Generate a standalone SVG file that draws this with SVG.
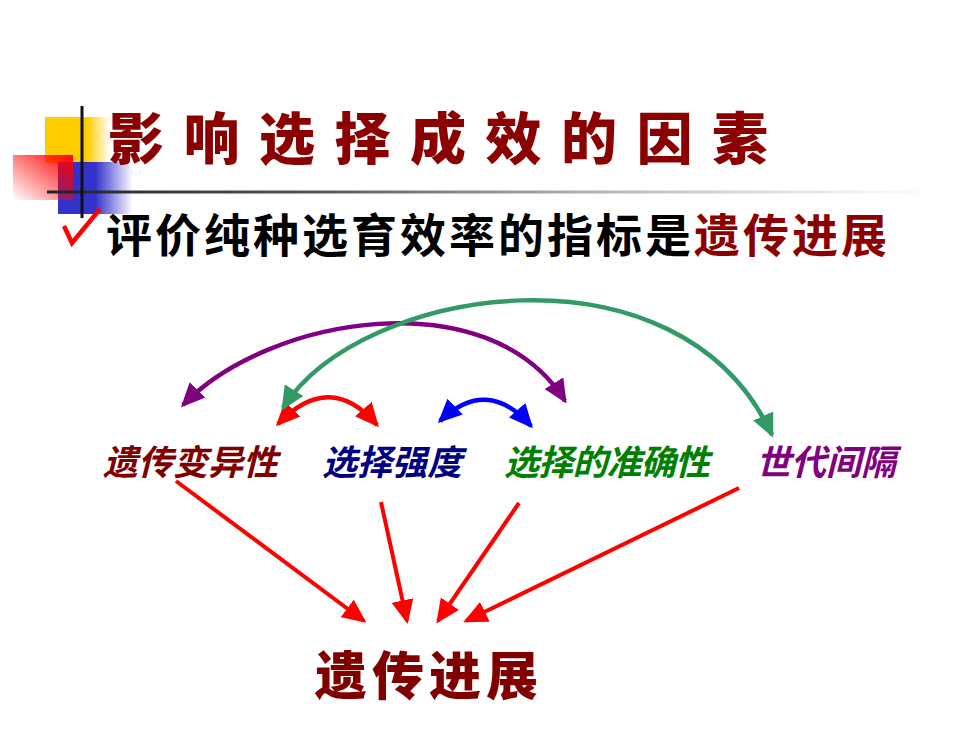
<svg xmlns="http://www.w3.org/2000/svg" width="980" height="735" viewBox="0 0 980 735">
<style>
.cjk{font-family:"Noto Sans CJK SC","Noto Sans",sans-serif}
.title{font-size:56px;font-weight:900;fill:#8B0000;letter-spacing:19.5px}
.sub{font-size:46px;font-weight:700;fill:#000;letter-spacing:3px}
.lbl{font-size:35px;font-weight:700;font-style:italic}
.arc{fill:none;stroke-width:4.5}
.ln{fill:none;stroke:#FF0000;stroke-width:4}
</style>
<defs>
<linearGradient id="gy" x1="0" y1="0" x2="1" y2="0"><stop offset="0.65" stop-color="#FFCC00"/><stop offset="1" stop-color="#FFCC00" stop-opacity="0"/></linearGradient>
<linearGradient id="gb" x1="0" y1="0" x2="1" y2="0"><stop offset="0.5" stop-color="#3333CC"/><stop offset="1" stop-color="#3333CC" stop-opacity="0"/></linearGradient>
<linearGradient id="gr" x1="1" y1="0" x2="0" y2="1"><stop offset="0" stop-color="#FF0000"/><stop offset="1" stop-color="#FF0000" stop-opacity="0"/></linearGradient>
<linearGradient id="gl" x1="0" y1="0" x2="1" y2="0"><stop offset="0" stop-color="#222"/><stop offset="0.3" stop-color="#555"/><stop offset="1" stop-color="#999" stop-opacity="0"/></linearGradient>
<marker id="mR" markerUnits="userSpaceOnUse" markerWidth="24" markerHeight="22" refX="21" refY="11" orient="auto-start-reverse"><path d="M0,0 L24,11 L0,22 z" fill="#FF0000"/></marker>
<marker id="mP" markerUnits="userSpaceOnUse" markerWidth="24" markerHeight="22" refX="21" refY="11" orient="auto-start-reverse"><path d="M0,0 L24,11 L0,22 z" fill="#800080"/></marker>
<marker id="mG" markerUnits="userSpaceOnUse" markerWidth="24" markerHeight="22" refX="21" refY="11" orient="auto-start-reverse"><path d="M0,0 L24,11 L0,22 z" fill="#339966"/></marker>
<marker id="mB" markerUnits="userSpaceOnUse" markerWidth="24" markerHeight="22" refX="21" refY="11" orient="auto-start-reverse"><path d="M0,0 L24,11 L0,22 z" fill="#0000FF"/></marker>
</defs>
<rect width="980" height="735" fill="#FFFFFF"/>
<g id="decoration">
<rect x="45" y="117" width="65" height="46" fill="url(#gy)"/>
<rect x="58" y="162" width="75" height="52" fill="url(#gb)"/>
<rect x="13" y="155" width="60" height="45" fill="url(#gr)"/>
<rect x="47" y="190.5" width="890" height="3" fill="url(#gl)"/>
<rect x="80.5" y="106" width="3" height="112" fill="#111"/>
<path d="M64,226 L72,243 L100,209" fill="none" stroke="#FF0000" stroke-width="4.5" stroke-linejoin="miter"/>
</g>
<g id="title"><text class="cjk title" x="108" y="159">影响选择成效的因素</text></g>
<g id="subtitle"><text class="cjk sub" x="106" y="252">评价纯种选育效率的指标是<tspan fill="#8B0000">遗传进展</tspan></text></g>
<g id="connectors">
<path class="arc" stroke="#FF0000" d="M278,424 Q330,370 377,425" marker-start="url(#mR)" marker-end="url(#mR)"/>
<path class="arc" stroke="#0000FF" d="M440,421 Q487,376 531,426" marker-start="url(#mB)" marker-end="url(#mB)"/>
<path class="arc" stroke="#800080" d="M183,405 C270,315 490,280 565,401" marker-start="url(#mP)" marker-end="url(#mP)"/>
<path class="arc" stroke="#339966" d="M283,408 C360,285 680,235 772,435" marker-start="url(#mG)" marker-end="url(#mG)"/>
<path class="ln" d="M176,481 L364,621" marker-end="url(#mR)"/>
<path class="ln" d="M381,502 L407,621" marker-end="url(#mR)"/>
<path class="ln" d="M519,503 L438,621" marker-end="url(#mR)"/>
<path class="ln" d="M739,488 L466,621" marker-end="url(#mR)"/>
</g>
<g id="node-variation"><text class="cjk lbl" x="103" y="475" fill="#800000">遗传变异性</text></g>
<g id="node-intensity"><text class="cjk lbl" x="322" y="475" fill="#000080">选择强度</text></g>
<g id="node-accuracy"><text class="cjk lbl" x="504" y="475" fill="#008000" letter-spacing="-0.8">选择的准确性</text></g>
<g id="node-interval"><text class="cjk lbl" x="756" y="475" fill="#800080">世代间隔</text></g>
<g id="node-progress"><text class="cjk" x="315" y="695" font-size="52" font-weight="900" fill="#800000" letter-spacing="5">遗传进展</text></g>
</svg>
